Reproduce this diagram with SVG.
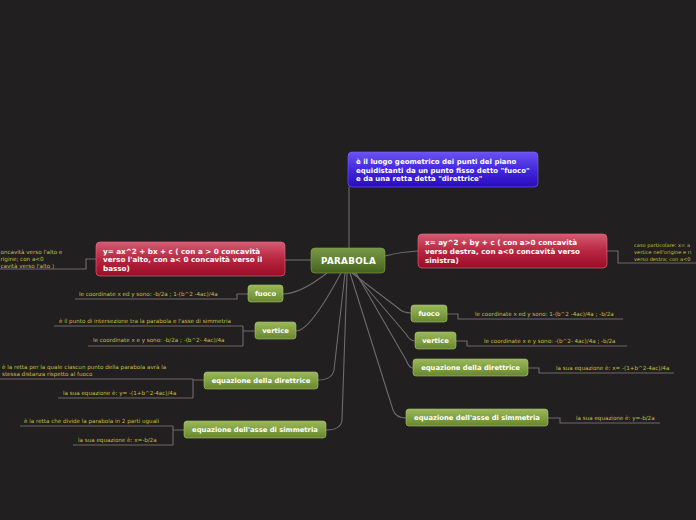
<svg xmlns="http://www.w3.org/2000/svg" width="696" height="520" viewBox="0 0 696 520">
<defs>
<linearGradient id="gGreen" x1="0" y1="0" x2="0" y2="1">
<stop offset="0" stop-color="#9ab85a"/><stop offset="0.5" stop-color="#82a143"/><stop offset="1" stop-color="#68862e"/>
</linearGradient>
<linearGradient id="gRoot" x1="0" y1="0" x2="0" y2="1">
<stop offset="0" stop-color="#7a9948"/><stop offset="0.5" stop-color="#5f7f32"/><stop offset="1" stop-color="#45621f"/>
</linearGradient>
<linearGradient id="gRed" x1="0" y1="0" x2="0" y2="1">
<stop offset="0" stop-color="#d65a72"/><stop offset="0.5" stop-color="#b8263f"/><stop offset="1" stop-color="#9a0c28"/>
</linearGradient>
<linearGradient id="gPurple" x1="0" y1="0" x2="0" y2="1">
<stop offset="0" stop-color="#6a52f2"/><stop offset="0.5" stop-color="#4428dc"/><stop offset="1" stop-color="#2a0cbc"/>
</linearGradient>
</defs>
<style>
.bg{fill:#221f20}
.conn{fill:none;stroke:#6e6b6b;stroke-width:1.1}
.green{fill:url(#gGreen);stroke:#a9c46e;stroke-width:0.6}
.root{fill:url(#gRoot);stroke:#86a356;stroke-width:0.6}
.red{fill:url(#gRed);stroke:#e07086;stroke-width:0.6}
.purple{fill:url(#gPurple);stroke:#7a66f4;stroke-width:0.6}
.nt{font-family:"DejaVu Sans",Verdana,sans-serif;font-weight:bold;fill:#ffffff;font-size:6.8px}
.rd{font-family:"DejaVu Sans",Verdana,sans-serif;font-weight:bold;fill:#ffffff;font-size:7.2px}
.ct{font-family:"DejaVu Sans",Verdana,sans-serif;font-weight:bold;fill:#ffffff;font-size:7px}
.rt{font-family:"DejaVu Sans",Verdana,sans-serif;font-weight:bold;fill:#ffffff;font-size:8.8px;letter-spacing:0.3px}
.lt{font-family:"DejaVu Sans",Verdana,sans-serif;fill:#c4bf3e;font-size:5.6px}
.sm{font-size:5.1px}
.mid{text-anchor:middle}
</style>
<rect class="bg" x="0" y="0" width="696" height="520"/>

<g id="connectors">
<path class="conn" d="M349,248 V187"/>
<path class="conn" d="M311,260 H285"/>
<path class="conn" d="M385,256 Q400,252 418,251"/>
<path class="conn" d="M327,273 Q300,294 283,294"/>
<path class="conn" d="M341,273 Q310,331 296,331"/>
<path class="conn" d="M345,273 L334,370 Q332,380 318,380"/>
<path class="conn" d="M347,273 L342,420 Q341,430 326,430"/>
<path class="conn" d="M352,273 L398,308 Q403,313 411,313"/>
<path class="conn" d="M354,273 L406,334 Q410,341 415,341"/>
<path class="conn" d="M356,273 L406,360 Q409,368 413,368"/>
<path class="conn" d="M350,273 L393,410 Q396,418 406,418"/>
<path class="conn" d="M96,259 H86 V269 H0"/>
<path class="conn" d="M248,294 H237 V299 H75"/>
<path class="conn" d="M255,331 H243 M243,326 V346 M243,326 H54 M243,346 H88"/>
<path class="conn" d="M204,380 H193 M193,379 V398 M193,379 H0 M193,398 H58"/>
<path class="conn" d="M184,430 H173 M173,426 V445 M173,426 H20 M173,445 H73"/>
<path class="conn" d="M607,251 H618 V263 H696"/>
<path class="conn" d="M447,314 H458 V319 H623"/>
<path class="conn" d="M456,341 H467 V346 H627"/>
<path class="conn" d="M528,368 H539 V373 H674"/>
<path class="conn" d="M548,418 H560 V423 H660"/>
</g>

<g id="node-parabola">
<rect class="root" x="311" y="248" width="74" height="25" rx="4"/>
<text class="rt mid" x="348.5" y="264.3">PARABOLA</text>
</g>

<g id="node-definizione">
<rect class="purple" x="348" y="152" width="190" height="35" rx="4"/>
<text class="ct" x="356" y="164">è il luogo geometrico dei punti del piano</text>
<text class="ct" x="356" y="172.5">equidistanti da un punto fisso detto "fuoco"</text>
<text class="ct" x="356" y="181">e da una retta detta "direttrice"</text>
</g>

<g id="node-y-eq">
<rect class="red" x="96" y="242" width="189" height="34" rx="4"/>
<text class="rd" x="103" y="253.5">y= ax^2 + bx + c  ( con a &gt; 0 concavità</text>
<text class="rd" x="103" y="262">verso l'alto, con a&lt; 0 concavità verso il</text>
<text class="rd" x="103" y="270.5">basso)</text>
</g>

<g id="node-x-eq">
<rect class="red" x="418" y="234" width="189" height="34" rx="4"/>
<text class="rd" x="425" y="244.5">x= ay^2 + by + c  ( con a&gt;0 concavità</text>
<text class="rd" x="425" y="253.5">verso destra, con a&lt;0 concavità verso</text>
<text class="rd" x="425" y="262.5">sinistra)</text>
</g>

<g id="node-fuoco-l">
<rect class="green" x="248" y="285" width="35" height="17" rx="3"/>
<text class="nt mid" x="265.5" y="296">fuoco</text>
</g>
<g id="node-vertice-l">
<rect class="green" x="255" y="322" width="41" height="17" rx="3"/>
<text class="nt mid" x="275.5" y="333">vertice</text>
</g>
<g id="node-direttrice-l">
<rect class="green" x="204" y="372" width="114" height="17" rx="3"/>
<text class="nt mid" x="261" y="383">equazione della direttrice</text>
</g>
<g id="node-asse-l">
<rect class="green" x="184" y="421" width="142" height="17" rx="3"/>
<text class="nt mid" x="255" y="432">equazione dell'asse di simmetria</text>
</g>

<g id="node-fuoco-r">
<rect class="green" x="411" y="305" width="36" height="17" rx="3"/>
<text class="nt mid" x="429" y="316">fuoco</text>
</g>
<g id="node-vertice-r">
<rect class="green" x="415" y="332" width="41" height="17" rx="3"/>
<text class="nt mid" x="435.5" y="343">vertice</text>
</g>
<g id="node-direttrice-r">
<rect class="green" x="413" y="359" width="115" height="17" rx="3"/>
<text class="nt mid" x="470.5" y="370">equazione della direttrice</text>
</g>
<g id="node-asse-r">
<rect class="green" x="406" y="409" width="142" height="17" rx="3"/>
<text class="nt mid" x="477" y="420">equazione dell'asse di simmetria</text>
</g>

<g id="leaf-y-caso">
<text class="lt" x="0.5" y="254">oncavità verso l'alto e</text>
<text class="lt" x="0.5" y="261">rigine; con a&lt;0</text>
<text class="lt" x="0.5" y="268">cavità verso l'alto )</text>
</g>
<g id="leaf-fuoco-l"><text class="lt" x="79" y="296">le coordinate x ed y sono: -b/2a ; 1-(b^2 -4ac)/4a</text></g>
<g id="leaf-vertice-l1"><text class="lt" x="59" y="323">è il punto di intersezione tra la parabola e l'asse di simmetria</text></g>
<g id="leaf-vertice-l2"><text class="lt" x="93" y="342">le coordinate x e y sono: -b/2a ; -(b^2- 4ac)/4a</text></g>
<g id="leaf-direttrice-l1">
<text class="lt" x="2" y="369">è la retta per la quale ciascun punto della parabola avrà la</text>
<text class="lt" x="2" y="376">stessa distanza rispetto al fuoco</text>
</g>
<g id="leaf-direttrice-l2"><text class="lt" x="63" y="394.5">la sua equazione è: y= -(1+b^2-4ac)/4a</text></g>
<g id="leaf-asse-l1"><text class="lt" x="24" y="422.5">è la retta che divide la parabola in 2 parti uguali</text></g>
<g id="leaf-asse-l2"><text class="lt" x="78" y="441.5">la sua equazione è: x=-b/2a</text></g>

<g id="leaf-x-caso">
<text class="lt sm" x="634" y="246.5">caso particolare: x= a</text>
<text class="lt sm" x="634" y="253.5">vertice nell'origine e ri</text>
<text class="lt sm" x="634" y="260.5">verso destra; con a&lt;0</text>
</g>
<g id="leaf-fuoco-r"><text class="lt" x="475" y="316">le coordinate x ed y sono:  1-(b^2 -4ac)/4a ; -b/2a</text></g>
<g id="leaf-vertice-r"><text class="lt" x="484" y="343">le coordinate x e y sono:  -(b^2- 4ac)/4a ;  -b/2a</text></g>
<g id="leaf-direttrice-r"><text class="lt" x="556" y="370">la sua equazione è: x= -(1+b^2-4ac)/4a</text></g>
<g id="leaf-asse-r"><text class="lt" x="576" y="419.5">la sua equazione è: y=-b/2a</text></g>
</svg>
